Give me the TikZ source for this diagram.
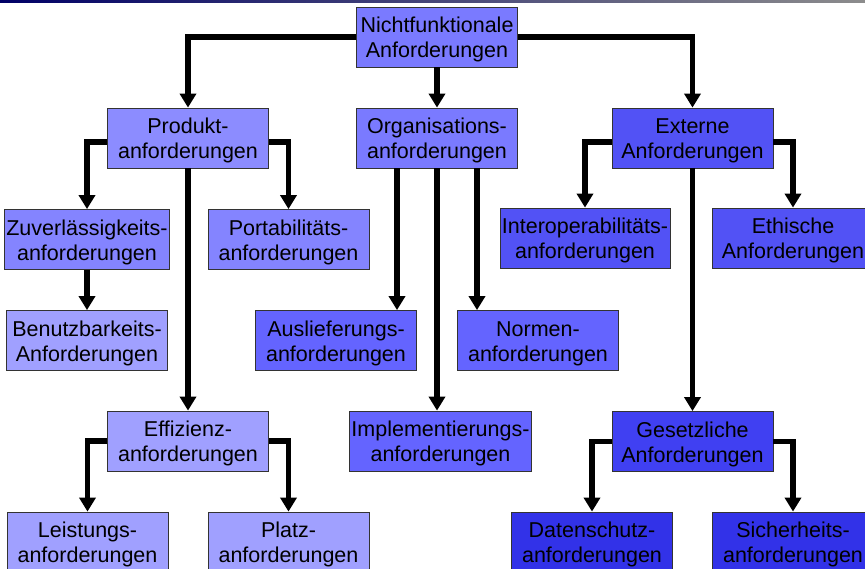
\documentclass[tikz,border=0pt]{standalone}
\usepackage{fontspec}
\setmainfont{Liberation Sans}
\usetikzlibrary{arrows.meta,%
                positioning}
\definecolor{hue0}{RGB}{122,122,255}
\definecolor{hue1}{RGB}{140,140,255}
\definecolor{hue2}{RGB}{132,132,255}
\definecolor{hue3}{RGB}{160,160,255}
\definecolor{hue4}{RGB}{100,100,255}
\definecolor{hue5}{RGB}{82,82,245}
\definecolor{hue6}{RGB}{64,64,242}
\definecolor{hue7}{RGB}{50,50,232}
\tikzstyle{req}=[rectangle,draw=black!80,line width=0.8pt,minimum width=161pt,minimum height=60pt,inner sep=2pt,align=center,font=\fontsize{21.5}{25}\selectfont,text height=46pt,text depth=4.5pt]
\tikzstyle{link}=[line width=5.5pt,->]

\begin{document}
\begin{tikzpicture}[>={Triangle[width=16pt,length=14pt]},x=1pt,y=-1pt]
	  \clip (0,0) rectangle (865,568);
	  \fill[left color=blue!40!black,right color=black!45] (0,0) rectangle (865,2);
	  \node (nf) at (437,37) [req,fill=hue0] {Nichtfunktionale\\Anforderungen};
	  \node (prod) at (188,138) [req,fill=hue1] {Produkt-\\anforderungen};
	  \node (org) at (437,138) [req,fill=hue0] {Organisations-\\anforderungen};
	  \node (ext) at (692.5,138) [req,fill=hue5] {Externe\\Anforderungen};
	  \node (zuv) at (87,239.5) [req,fill=hue2] {Zuverlässigkeits-\\anforderungen};
	  \node (port) at (288.5,239.5) [req,fill=hue2] {Portabilitäts-\\anforderungen};
	  \node (benutz) at (87,340.5) [req,fill=hue3] {Benutzbarkeits-\\Anforderungen};
	  \node (eff) at (188,441) [req,fill=hue3] {Effizienz-\\anforderungen};
	  \node (leist) at (87.5,542) [req,fill=hue3] {Leistungs-\\anforderungen};
	  \node (platz) at (288.5,542) [req,fill=hue3] {Platz-\\anforderungen};
	  \node (ausl) at (336,340.5) [req,fill=hue4] {Auslieferungs-\\anforderungen};
	  \node (normen) at (538,340.5) [req,fill=hue4] {Normen-\\anforderungen};
	  \node (impl) at (440.5,441) [req,fill=hue4] {Implementierungs-\\anforderungen};
	  \node (interop) at (585,238) [req,fill=hue5] {Interoperabilitäts-\\anforderungen};
	  \node (ethik) at (793,238) [req,fill=hue5] {Ethische\\Anforderungen};
	  \node (gesetz) at (692.5,441.5) [req,fill=hue6] {Gesetzliche\\Anforderungen};
	  \node (daten) at (592,542) [req,fill=hue7] {Datenschutz-\\anforderungen};
	  \node (sicher) at (793,542) [req,fill=hue7] {Sicherheits-\\anforderungen};
	  \draw [link] (nf.west) -| (prod.north);
	  \draw [link] (nf) -- (org);
	  \draw [link] (nf.east) -| (ext.north);
	  \draw [link] ([yshift=-4]prod.west) -| (zuv.north);
	  \draw [link] ([yshift=-4]prod.east) -| (port.north);
	  \draw [link] (prod) -- (eff);
	  \draw [link] (zuv) -- (benutz);
	  \draw [link] (eff.west) -| (leist.north);
	  \draw [link] (eff.east) -| (platz.north);
	  \draw [link] ([xshift=-40]org.south) -- ([xshift=-40]org.south |- ausl.north);
	  \draw [link] (org.south) -- (org.south |- impl.north);
	  \draw [link] ([xshift=40]org.south) -- ([xshift=40]org.south |- normen.north);
	  \draw [link] ([yshift=-4]ext.west) -| (interop.north);
	  \draw [link] ([yshift=-4]ext.east) -| (ethik.north);
	  \draw [link] (ext) -- (gesetz);
	  \draw [link] (gesetz.west) -| (daten.north);
	  \draw [link] (gesetz.east) -| (sicher.north);
    %
    \end{tikzpicture}
\end{document}
